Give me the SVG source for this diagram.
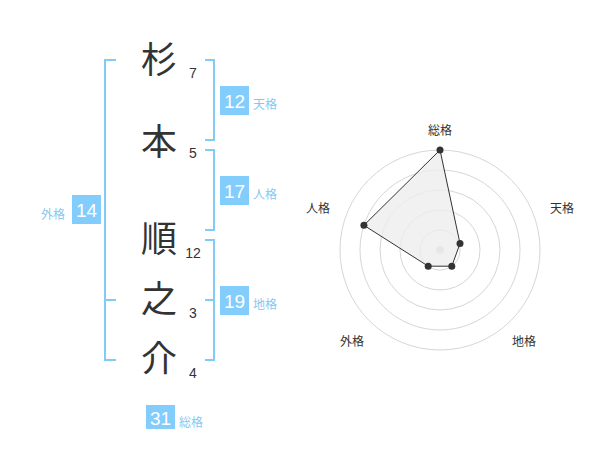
<svg xmlns="http://www.w3.org/2000/svg" width="600" height="470" viewBox="0 0 600 470">
<style>
.ch{font-family:"Noto Sans CJK JP","Noto Sans CJK SC",sans-serif;font-size:36px;fill:#333;text-anchor:middle}
.num{font-family:"Liberation Sans",Arial,sans-serif;font-size:14px;fill:#333;text-anchor:middle}
.br{fill:none;stroke:#82cbf6;stroke-width:2}
.badge{fill:#82cdfc}
.bt{font-family:"Liberation Sans",Arial,sans-serif;font-size:19px;fill:#fff;text-anchor:middle}
.bl{font-family:"Noto Sans CJK JP","Noto Sans CJK SC",sans-serif;font-size:12px;fill:#86c8f2}
.ring{fill:none;stroke:#d6d6d6;stroke-width:1}
.rl{font-family:"Noto Sans CJK JP","Noto Sans CJK SC",sans-serif;font-size:12px;fill:#333;text-anchor:middle}
.pt{fill:#333}
</style>
<rect width="600" height="470" fill="#fff"/>
<g id="connectors">
<path class="br" d="M116,60 H105 V360 H116 M105,300 H116"/>
<path class="br" d="M205,60 H214 V140 H205"/>
<path class="br" d="M205,150 H214 V230 H205"/>
<path class="br" d="M205,240 H214 V360 H205 M205,300 H214"/>
</g>
<g id="chars">
<g id="c1"><text class="ch" x="159" y="73">杉</text><text class="num" x="193" y="78">7</text></g>
<g id="c2"><text class="ch" x="159" y="155">本</text><text class="num" x="193" y="158">5</text></g>
<g id="c3"><text class="ch" x="159" y="252">順</text><text class="num" x="193" y="258">12</text></g>
<g id="c4"><text class="ch" x="159" y="312">之</text><text class="num" x="193" y="318">3</text></g>
<g id="c5"><text class="ch" x="159" y="372">介</text><text class="num" x="193" y="378">4</text></g>
</g>
<g id="tenkaku"><rect class="badge" x="220" y="86" width="29" height="29"/><text class="bt" x="234.5" y="108">12</text><text class="bl" x="253" y="108.5">天格</text></g>
<g id="jinkaku"><rect class="badge" x="220" y="176" width="29" height="29"/><text class="bt" x="234.5" y="198">17</text><text class="bl" x="253" y="198.5">人格</text></g>
<g id="chikaku"><rect class="badge" x="220" y="286" width="29" height="29"/><text class="bt" x="234.5" y="308">19</text><text class="bl" x="253" y="308.5">地格</text></g>
<g id="gaikaku"><rect class="badge" x="72" y="195" width="29" height="29"/><text class="bt" x="86.5" y="217">14</text><text class="bl" x="41" y="219">外格</text></g>
<g id="soukaku"><rect class="badge" x="146" y="405" width="29" height="24"/><text class="bt" x="160.5" y="425">31</text><text class="bl" x="179" y="427">総格</text></g>
<g id="radar">
<circle class="ring" cx="440" cy="250" r="20"/>
<circle class="ring" cx="440" cy="250" r="40"/>
<circle class="ring" cx="440" cy="250" r="60"/>
<circle class="ring" cx="440" cy="250" r="80"/>
<circle class="ring" cx="440" cy="250" r="100"/>
<circle cx="440" cy="250" r="4" fill="#cccccc"/>
<polygon points="440,150 460,243.5 451.8,266.2 428.2,266.2 363.9,225.3" fill="#eeeeee" fill-opacity="0.8" stroke="#333" stroke-width="1"/>
<circle class="pt" cx="440" cy="150" r="3.5"/>
<circle class="pt" cx="460" cy="243.5" r="3.5"/>
<circle class="pt" cx="451.8" cy="266.2" r="3.5"/>
<circle class="pt" cx="428.2" cy="266.2" r="3.5"/>
<circle class="pt" cx="363.9" cy="225.3" r="3.5"/>
<text class="rl" x="440" y="135">総格</text>
<text class="rl" x="562" y="213">天格</text>
<text class="rl" x="524" y="346">地格</text>
<text class="rl" x="352" y="346">外格</text>
<text class="rl" x="318" y="213">人格</text>
</g>
</svg>
